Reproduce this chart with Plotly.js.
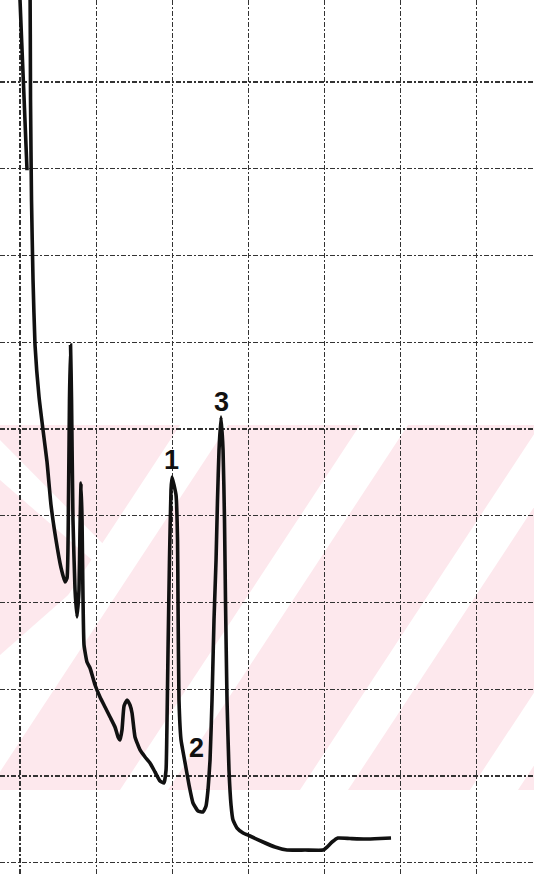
<!DOCTYPE html>
<html>
<head>
<meta charset="utf-8">
<script src="https://cdn.plot.ly/plotly-3.0.1.min.js"></script>
<style>html,body{margin:0;padding:0;background:#fff;}#chart{width:534px;height:876px;}</style>
</head>
<body>
<div id="chart"></div>
<script>
// Chromatogram trace (x: chart divisions, y: chart divisions)
const time = [0.092,0.046,0,-0.007,0.066,0.131,0.138,0.151,0.171,0.197,0.25,0.302,0.355,0.407,0.473,0.539,0.591,0.618,0.637,0.65,0.664,0.677,0.696,0.723,0.749,0.775,0.788,0.802,0.815,0.828,0.841,0.88,0.92,0.986,1.051,1.117,1.183,1.248,1.288,1.314,1.34,1.367,1.406,1.445,1.472,1.511,1.577,1.643,1.708,1.774,1.84,1.892,1.919,1.932,1.945,1.964,1.984,1.997,2.05,2.07,2.076,2.089,2.116,2.155,2.181,2.221,2.273,2.339,2.405,2.444,2.47,2.497,2.523,2.549,2.576,2.595,2.615,2.641,2.668,2.687,2.7,2.72,2.746,2.773,2.799,2.852,2.931,3.022,3.193,3.351,3.509,3.745,3.982,4.034,4.1,4.179,4.336,4.534,4.731,4.875];
const signal = [7.983,8.966,9.946,10.29,13.4,10.29,8.793,7.64,6.717,5.97,5.37,4.99,4.62,4.125,3.721,3.399,3.238,3.282,4.182,5.335,5.969,5.335,3.951,3.144,2.833,3.144,3.836,4.377,3.951,3.028,2.51,2.314,2.245,2.049,1.91,1.795,1.68,1.565,1.45,1.416,1.531,1.807,1.876,1.818,1.726,1.45,1.3,1.219,1.15,1.046,0.942,0.919,1.069,1.645,2.452,3.49,4.297,4.447,4.24,3.721,3.029,1.876,1.415,1.219,1.092,0.896,0.689,0.596,0.585,0.654,0.838,1.184,1.876,2.798,3.49,4.182,4.758,5.139,4.758,3.951,3.029,1.876,1.069,0.665,0.492,0.4,0.343,0.308,0.239,0.181,0.146,0.146,0.146,0.181,0.239,0.285,0.279,0.273,0.279,0.285];
const peakLabels = ["1","2","3"];
const peakX = [1.997,2.313,2.641];
const peakY = [4.643,1.323,5.312];

// Watermark decoration (pixel coords converted to paper)
const W=534,H=876;
function p(x,y){return (x/W).toFixed(4)+','+(1-y/H).toFixed(4);}
function poly(pts){return 'M'+pts.map(q=>p(q[0],q[1])).join(' L')+' Z';}
const pink='#fde8ed';
const shapes=[];
const bandTop=425, bandBot=790;
shapes.push({type:'rect',xref:'paper',yref:'paper',x0:0,x1:1,y0:1-bandBot/H,y1:1-bandTop/H,fillcolor:pink,line:{width:0},layer:'below'});
// white diagonal stripes "/"
const shift=240, sw=48;
[-60,120,300,470].forEach(b=>{
  shapes.push({type:'path',xref:'paper',yref:'paper',path:poly([[b,bandBot],[b+sw,bandBot],[b+sw+shift,bandTop],[b+shift,bandTop]]),fillcolor:'#ffffff',line:{width:0},layer:'below'});
});
// chevron at left
shapes.push({type:'path',xref:'paper',yref:'paper',path:poly([[0,440],[0,480],[100,567],[0,655],[0,700],[126,567]]),fillcolor:'#ffffff',line:{width:0},layer:'below'});

const annotations = peakLabels.map((t,i)=>({x:peakX[i],y:peakY[i],xref:'x',yref:'y',text:t,showarrow:false,
  font:{family:'Liberation Sans, Arial, sans-serif',size:27,color:'#111',weight:'bold'}}));

const trace = {x:time,y:signal,type:'scatter',mode:'lines',line:{color:'#111',width:3.6,shape:'spline',smoothing:0.4},hoverinfo:'skip'};

const axisCommon = {showgrid:true,gridcolor:'#333',gridwidth:1.2,griddash:'5px,2px,2px,2px',zeroline:false,showline:false,showticklabels:false,ticks:'',tick0:0,dtick:1,fixedrange:true};
const layout = {
  width:W,height:H,margin:{l:0,r:0,t:0,b:0},paper_bgcolor:'#fff',plot_bgcolor:'rgba(0,0,0,0)',showlegend:false,
  xaxis:Object.assign({range:[-0.263,6.754]},axisCommon),
  yaxis:Object.assign({range:[-0.153,9.946]},axisCommon),
  shapes:shapes,annotations:annotations
};
Plotly.newPlot('chart',[trace],layout,{displayModeBar:false,staticPlot:true});
</script>
</body>
</html>
